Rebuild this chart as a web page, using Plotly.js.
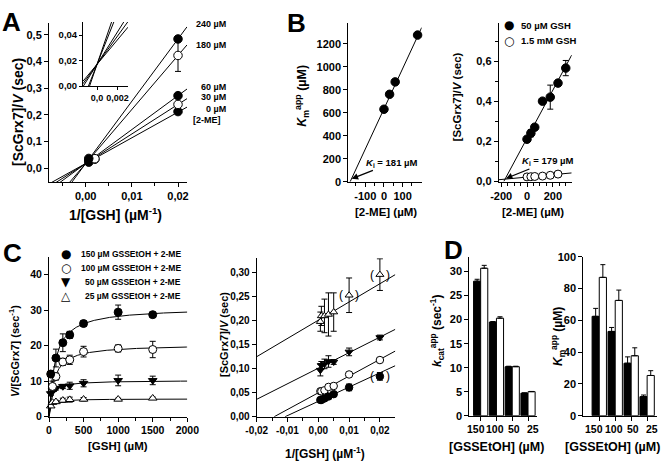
<!DOCTYPE html>
<html><head><meta charset="utf-8">
<script src="https://cdn.plot.ly/plotly-3.0.1.min.js"></script>
<style>body{margin:0;background:#fff}#chart{width:663px;height:469px}</style>
</head><body><div id="chart"></div>
<script>
// ---------------- DATA ----------------
// Panel A: Lineweaver-Burk at different [2-ME]
const aLabels    = ['240 µM','180 µM','60 µM','30 µM','0 µM'];
const aOpen      = [false, true, false, true, false];
const aX         = [[0.00067,0.02],[0.002,0.02],[0.00067,0.02],[0.002,0.02],[0.00067,0.02]];
const aY         = [[0.036,0.485],[0.035,0.423],[0.030,0.272],[0.033,0.239],[0.022,0.212]];
const aErr       = [[0,0],[0,0.06],[0,0],[0,0],[0,0]];
const aSlope     = [23.4, 20.3, 12.75, 11.1, 9.65];
const aIntercept = [0.017, 0.017, 0.017, 0.017, 0.017];

// Panel B left: Km app vs [2-ME]
const bConc = [0, 30, 60, 180];
const bKm   = [630, 760, 868, 1275];
const bKi   = 181;
const bSlope = 3.5;

// Panel B right
const brLegend = ['50 µM GSH', '1.5 mM GSH'];
const brX50 = [0, 30, 60, 120, 180, 240, 300];
const brY50 = [0.21, 0.24, 0.27, 0.40, 0.42, 0.49, 0.565];
const brE50 = [0, 0.018, 0, 0, 0.06, 0, 0.038];
const brX15 = [0, 30, 60, 120, 180, 240];
const brY15 = [0.022, 0.023, 0.024, 0.026, 0.030, 0.036];
const brKi = 179;
const brSlope = [0.0012, 0.00006];
const brIntercept = [0.2148, 0.021];

// Panel C left: saturation curves
const cLegend = ['150 µM GSSEtOH + 2-ME','100 µM GSSEtOH + 2-ME','50 µM GSSEtOH + 2-ME','25 µM GSSEtOH + 2-ME'];
const c150X = [25, 100, 200, 300, 500, 1000, 1500];
const c150Y = [12, 16.5, 20.8, 23, 26.2, 29.4, 28.7];
const c150E = [1, 2.5, 2.5, 1, 0.8, 2, 0.7];
const c100X = [50, 100, 200, 300, 500, 1000, 1500];
const c100Y = [8.5, 11.3, 15.4, 16, 18.3, 19.2, 18.9];
const c100E = [1.5, 1, 1, 1.3, 1.5, 1, 2.3];
const c50X  = [25, 50, 100, 200, 300, 500, 1000, 1500];
const c50Y  = [6.5, 7.5, 8, 8.5, 8.7, 9.4, 10.2, 10.2];
const c50E  = [0.5, 0.5, 0.5, 0.6, 1, 1, 1.5, 1.2];
const c25X  = [25, 50, 100, 200, 300, 500, 1000, 1500];
const c25Y  = [3, 4, 4.2, 4.6, 4.8, 4.9, 4.9, 5.2];
const c25E  = [0.3, 0.3, 0.4, 0.6, 0.7, 0.5, 0.3, 0.3];
const cFitVmax = [30.7, 20.3, 10.2, 5.0];
const cFitKm   = [87, 72.5, 37.7, 25.3];

// Panel C right: double reciprocal
const crX    = [0.00067, 0.001, 0.002, 0.0033, 0.005, 0.01, 0.02];
const crY25  = [0.198, 0.21, 0.21, 0.213, 0.218, 0.253, 0.296];
const crE25  = [0.02, 0.02, 0.035, 0.045, 0.04, 0.036, 0.033];
const crY50  = [0.097, 0.107, 0.11, 0.115, 0.114, 0.135, 0.165];
const crE50  = [0.012, 0.008, 0.01, 0.012, 0.005, 0.008, 0.005];
const crY100 = [0.053, 0.053, 0.055, 0.062, 0.064, 0.088, 0.118];
const crE100 = [0, 0, 0, 0, 0, 0, 0.004];
const crY150 = [0.035, 0.035, 0.038, 0.042, 0.047, 0.061, 0.084];
const crE150 = [0.003, 0.003, 0.003, 0.003, 0.004, 0.007, 0.008];
const crIntercept = [0.201, 0.101, 0.0498, 0.032];
const crSlope     = [3.8, 3.24, 3.48, 2.97];

// Panel D: bar charts
const dCats = ['150', '100', '50', '25'];
const dKcatBlack  = [28, 19.5, 10.2, 4.7];
const dKcatBlackE = [0.4, 0.1, 0.1, 0.05];
const dKcatWhite  = [30.7, 20.3, 10.2, 5.0];
const dKcatWhiteE = [0.6, 0.3, 0.1, 0.05];
const dKmBlack  = [62.5, 53, 33, 12];
const dKmBlackE = [5, 2.5, 4, 1];
const dKmWhite  = [87, 72.5, 37.7, 25.3];
const dKmWhiteE = [8, 6.5, 5, 3];

// ---------------- LAYOUT HELPERS ----------------
const W = 663, H = 469;
const FONT = '"Liberation Sans", Arial, sans-serif';
const dx = (a, b) => [a / W, b / W];
const dy = (a, b) => [1 - b / H, 1 - a / H];
const bf = (s) => ({family: FONT, size: s, color: '#000', weight: 'bold'});
function ax(o) {
  return Object.assign({showline: true, linecolor: '#000', linewidth: 1, ticks: 'outside', ticklen: 4,
    tickcolor: '#000', tickwidth: 1, showgrid: false, zeroline: false, fixedrange: true,
    tickfont: bf(11), tickangle: 0}, o);
}
function linspace(a, b, n) { const r = []; for (let i = 0; i < n; i++) r.push(a + (b - a) * i / (n - 1)); return r; }

const traces = [];
function addLine(xs, ys, xa, ya) {
  traces.push({type: 'scatter', mode: 'lines', x: xs, y: ys, xaxis: xa, yaxis: ya,
    line: {color: '#000', width: 1}, hoverinfo: 'skip'});
}
function addMarks(xs, ys, err, sym, open, size, xa, ya) {
  const t = {type: 'scatter', mode: 'markers', x: xs, y: ys, xaxis: xa, yaxis: ya, cliponaxis: false,
    marker: {symbol: sym, size: size, color: open ? '#fff' : '#000', line: {color: '#000', width: 1}}, hoverinfo: 'skip'};
  if (err) t.error_y = {type: 'data', array: err, visible: true, color: '#000', thickness: 1, width: 3};
  traces.push(t);
}

// ---------------- PANEL A ----------------
const A_XR = [-0.00795, 0.02195], A_YR = [-0.0526, 0.545];
const AI_XR = [-0.00137, 0.00302], AI_YR = [0, 0.0502];
aSlope.forEach((s, i) => {
  const xs = linspace(A_XR[0], A_XR[1], 2);
  addLine(xs, xs.map(v => aIntercept[i] + s * v), 'x', 'y');
  const xi = linspace(AI_XR[0], AI_XR[1], 2);
  addLine(xi, xi.map(v => aIntercept[i] + s * v), 'x2', 'y2');
});
[4, 3, 2, 1, 0].forEach(i => addMarks(aX[i], aY[i], aErr[i].some(e => e) ? aErr[i] : null, 'circle', aOpen[i], 8.5, 'x', 'y'));

// ---------------- PANEL B ----------------
const B_XR = [-191, 202], B_YR = [0, 1380];
{
  const xs = [-bKi, B_XR[1]];
  addLine(xs, xs.map(v => bSlope * (v + bKi)), 'x3', 'y3');
  addMarks(bConc, bKm, null, 'circle', false, 8.5, 'x3', 'y3');
}
const BR_XR = [-219, 346], BR_YR = [-0.002, 0.79];
{
  const x1 = [-brIntercept[0] / brSlope[0], BR_XR[1]];
  addLine(x1, x1.map(v => brIntercept[0] + brSlope[0] * v), 'x4', 'y4');
  const x2 = [BR_XR[0], BR_XR[1]];
  addLine(x2, x2.map(v => brIntercept[1] + brSlope[1] * v), 'x4', 'y4');
  addMarks(brX50, brY50, brE50, 'circle', false, 8.5, 'x4', 'y4');
  addMarks(brX15, brY15, null, 'circle', true, 8, 'x4', 'y4');
}

// ---------------- PANEL C ----------------
const C_XR = [0, 2000], C_YR = [0, 45];
cFitVmax.forEach((vm, i) => {
  const xs = linspace(0, 2000, 300);
  addLine(xs, xs.map(s => vm * s / (cFitKm[i] + s)), 'x5', 'y5');
});
addMarks(c25X, c25Y, c25E, 'triangle-up', true, 7.5, 'x5', 'y5');
addMarks(c50X, c50Y, c50E, 'triangle-down', false, 7.5, 'x5', 'y5');
addMarks(c100X, c100Y, c100E, 'circle', true, 8, 'x5', 'y5');
addMarks(c150X, c150Y, c150E, 'circle', false, 8, 'x5', 'y5');

const CR_XR = [-0.0200, 0.0250], CR_YR = [0, 0.33];
crSlope.forEach((s, i) => {
  const x0 = Math.max(CR_XR[0], -crIntercept[i] / s);
  const xs = [x0, CR_XR[1]];
  addLine(xs, xs.map(v => crIntercept[i] + s * v), 'x6', 'y6');
});
addMarks(crX, crY25, crE25, 'triangle-up', true, 7, 'x6', 'y6');
addMarks(crX, crY50, crE50, 'triangle-down', false, 7, 'x6', 'y6');
addMarks(crX, crY100, crE100, 'circle', true, 7.5, 'x6', 'y6');
addMarks(crX, crY150, crE150, 'circle', false, 7.5, 'x6', 'y6');

// ---------------- PANEL D ----------------
function addBars(y, e, col, xa, ya) {
  traces.push({type: 'bar', x: dCats, y: y, xaxis: xa, yaxis: ya, hoverinfo: 'skip',
    marker: {color: col, line: {color: '#000', width: 1}},
    error_y: {type: 'data', symmetric: false, array: e, arrayminus: e.map(() => 0), color: '#000', thickness: 1, width: 2.5}});
}
addBars(dKcatBlack, dKcatBlackE, '#000', 'x7', 'y7');
addBars(dKcatWhite, dKcatWhiteE, '#fff', 'x7', 'y7');
addBars(dKmBlack, dKmBlackE, '#000', 'x8', 'y8');
addBars(dKmWhite, dKmWhiteE, '#fff', 'x8', 'y8');

// ---------------- ANNOTATIONS ----------------
const ann = [];
const P = (t, x, y, font, extra) => ann.push(Object.assign({text: t, xref: 'paper', yref: 'paper', x: x / W, y: 1 - y / H,
  showarrow: false, xanchor: 'center', yanchor: 'middle', font: font}, extra || {}));
// panel letters
P('A', 0, 22, bf(26), {xanchor: 'left'}); P('B', 285, 23, bf(26), {xanchor: 'left'});
P('C', 1, 253, bf(26), {xanchor: 'left'}); P('D', 442, 250, bf(26), {xanchor: 'left'});

// axis titles
P('1/[GSH] (µM<sup>-1</sup>)', 116, 214, bf(14));
P('[ScGrx7]/<i>V</i> (sec)', 18, 112, bf(14), {textangle: -90});
P('[2-ME] (µM)', 385.5, 211.7, bf(11.5));
P('<i>K</i><sub>m</sub><sup>app</sup> (µM)', 301.7, 96, bf(12.5), {textangle: -90});
P('[2-ME] (µM)', 532.5, 211.7, bf(11.5));
P('[ScGrx7]/<i>V</i> (sec)', 456.7, 96.7, bf(11.5), {textangle: -90});
P('[GSH] (µM)', 118, 446, bf(11.5));
P('<i>V</i>/[ScGrx7] (sec<sup>-1</sup>)', 14, 351, bf(11), {textangle: -90});
P('1/[GSH] (µM<sup>-1</sup>)', 325, 452.7, bf(12));
P('[ScGrx7]/<i>V</i> (sec)', 224, 335, bf(11), {textangle: -90});
P('[GSSEtOH] (µM)', 496, 447, bf(12.5));
P('[GSSEtOH] (µM)', 612, 447, bf(12.5));
P('<i>k</i><sub>cat</sub><sup>app</sup> (sec<sup>-1</sup>)', 437, 331, bf(12), {textangle: -90});
P('<i>K</i><sub>m</sub><sup>app</sup> (µM)', 558, 337, bf(12), {textangle: -90});

// Panel D category labels (spread slightly, as in the original)
['x7', 'x8'].forEach(xr => dCats.forEach((c, i) => {
  ann.push({text: c, xref: xr, yref: 'paper', x: i, y: 1 - 429 / H, xshift: (i - 1.5) * 3.2, showarrow: false,
    xanchor: 'center', yanchor: 'middle', font: bf(10.5)});
}));

// Panel A line labels
const aLabelShift = [3, 0, 2, 1.5, -1.5];
aLabels.forEach((t, i) => {
  ann.push({text: t, xref: 'paper', yref: 'y', x: 228 / W, y: aIntercept[i] + aSlope[i] * A_XR[1], xanchor: 'right', yanchor: 'middle',
    yshift: aLabelShift[i], showarrow: false, font: bf(9)});
});
ann.push({text: '[2-ME]', xref: 'paper', yref: 'y', x: 223 / W, y: aIntercept[4] + aSlope[4] * A_XR[1], yshift: -13,
  xanchor: 'right', yanchor: 'middle', showarrow: false, font: bf(9)});

// Ki arrows
ann.push({text: '<i>K</i><sub>i</sub> = ' + bKi + ' µM', xref: 'x3', yref: 'y3', x: -bKi + 8, y: 25, ax: 40, ay: -16,
  showarrow: true, arrowhead: 2, arrowsize: 1, arrowwidth: 1.3, arrowcolor: '#000', font: bf(9.5)});
ann.push({text: '<i>K</i><sub>i</sub> = ' + brKi + ' µM', xref: 'x4', yref: 'y4', x: -brKi + 16, y: 0.014, ax: 42, ay: -17,
  showarrow: true, arrowhead: 2, arrowsize: 1, arrowwidth: 1.3, arrowcolor: '#000', font: bf(9.5)});

// B right legend
const symF = {family: 'DejaVu Sans', size: 12, color: '#000'};
[['●', brLegend[0], 25], ['○', brLegend[1], 40.7]].forEach(r => {
  P(r[0], 509, r[2], symF);
  P(r[1], 519, r[2], bf(9.5), {xanchor: 'left'});
});
// C left legend
['●', '○', '▼', '△'].forEach((s, i) => {
  const yy = 254.3 + i * 14;
  P(s, 65.7, yy, symF);
  P(cLegend[i], 183, yy, bf(8.5), {xanchor: 'right'});
});
// parentheses around excluded points in C right
[[crX[5], crY25[5]], [crX[6], crY25[6]], [crX[6], crY150[6]]].forEach(p => {
  ann.push({text: '(', xref: 'x6', yref: 'y6', x: p[0], y: p[1], xshift: -8, showarrow: false, font: {family: FONT, size: 12, color: '#000'}});
  ann.push({text: ')', xref: 'x6', yref: 'y6', x: p[0], y: p[1], xshift: 8, showarrow: false, font: {family: FONT, size: 12, color: '#000'}});
});

// ---------------- AXES ----------------
const layout = {
  width: W, height: H, margin: {l: 0, r: 0, t: 0, b: 0}, paper_bgcolor: '#fff', plot_bgcolor: 'rgba(0,0,0,0)',
  showlegend: false, separators: ', ', font: {family: FONT, color: '#000'},
  barmode: 'group', bargap: 0.1, bargroupgap: 0,
  annotations: ann,
  xaxis: ax({domain: dx(49, 187), anchor: 'y', range: A_XR, tickvals: [0, 0.01, 0.02], tickformat: '.2f',
    minor: {tickvals: [-0.005, 0.005, 0.015], ticks: 'outside', ticklen: 3, tickcolor: '#000'}}),
  yaxis: ax({domain: dy(23, 182), anchor: 'x', range: A_YR, tickvals: [0, 0.1, 0.2, 0.3, 0.4, 0.5], tickformat: '.1f'}),
  xaxis2: ax({domain: dx(83, 128), anchor: 'y2', range: AI_XR, tickvals: [0, 0.002], ticktext: ['0,0', '0,002'],
    tickfont: bf(9), ticklen: 3}),
  yaxis2: ax({domain: dy(22, 86), anchor: 'x2', range: AI_YR, tickvals: [0, 0.02, 0.04], tickformat: '.2f',
    tickfont: bf(9.5), ticklen: 3}),
  xaxis3: ax({domain: dx(348.3, 421.7), anchor: 'y3', range: B_XR, tickvals: [-100, 0, 100], ticktext: ['-100', '0', '100'],
    minor: {tickvals: [-150, -50, 50, 150], ticks: 'outside', ticklen: 3, tickcolor: '#000'}}),
  yaxis3: ax({domain: dy(23, 181.7), anchor: 'x3', range: B_YR, tickvals: [0, 200, 400, 600, 800, 1000, 1200]}),
  xaxis4: ax({domain: dx(498.7, 571.7), anchor: 'y4', range: BR_XR, tickvals: [-200, 0, 200], ticktext: ['-200', '0', '200'],
    minor: {tickvals: [-150, -100, -50, 50, 100, 150, 250, 300], ticks: 'outside', ticklen: 3, tickcolor: '#000'}}),
  yaxis4: ax({domain: dy(23, 181.7), anchor: 'x4', range: BR_YR, tickvals: [0, 0.2, 0.4, 0.6], tickformat: '.1f',
    minor: {tickvals: [0.1, 0.3, 0.5, 0.7], ticks: 'outside', ticklen: 3, tickcolor: '#000'}}),
  xaxis5: ax({domain: dx(49, 187.3), anchor: 'y5', range: C_XR, tickvals: [0, 500, 1000, 1500, 2000], tickfont: bf(10.5),
    minor: {tickvals: [250, 750, 1250, 1750], ticks: 'outside', ticklen: 3, tickcolor: '#000'}}),
  yaxis5: ax({domain: dy(256.7, 416.7), anchor: 'x5', range: C_YR, tickvals: [0, 10, 20, 30, 40], tickfont: bf(10.5)}),
  xaxis6: ax({domain: dx(256.7, 395.3), anchor: 'y6', range: CR_XR, tickvals: [-0.02, -0.01, 0, 0.01, 0.02],
    ticktext: ['-0,02', '-0,01', '0,00', '0,01', '0,02'], tickfont: bf(10),
    minor: {tickvals: [-0.015, -0.005, 0.005, 0.015], ticks: 'outside', ticklen: 3, tickcolor: '#000'}}),
  yaxis6: ax({domain: dy(258.3, 416.7), anchor: 'x6', range: CR_YR, tickvals: [0, 0.05, 0.1, 0.15, 0.2, 0.25, 0.3],
    tickformat: '.2f', tickfont: bf(10)}),
  xaxis7: ax({domain: dx(469.3, 536.7), anchor: 'y7', type: 'category', range: [-0.72, 3.55],
    tickmode: 'array', tickvals: dCats, showticklabels: false}),
  yaxis7: ax({domain: dy(256.7, 415.7), anchor: 'x7', range: [0, 33.1], tickvals: [0, 5, 10, 15, 20, 25, 30], tickfont: bf(11)}),
  xaxis8: ax({domain: dx(583.3, 656.7), anchor: 'y8', type: 'category', range: [-1.0, 3.6],
    tickmode: 'array', tickvals: dCats, showticklabels: false}),
  yaxis8: ax({domain: dy(256.7, 415.7), anchor: 'x8', range: [0, 100], tickvals: [0, 20, 40, 60, 80, 100], tickfont: bf(11)})
};

Plotly.newPlot('chart', traces, layout, {staticPlot: true, displayModeBar: false});
</script></body></html>
